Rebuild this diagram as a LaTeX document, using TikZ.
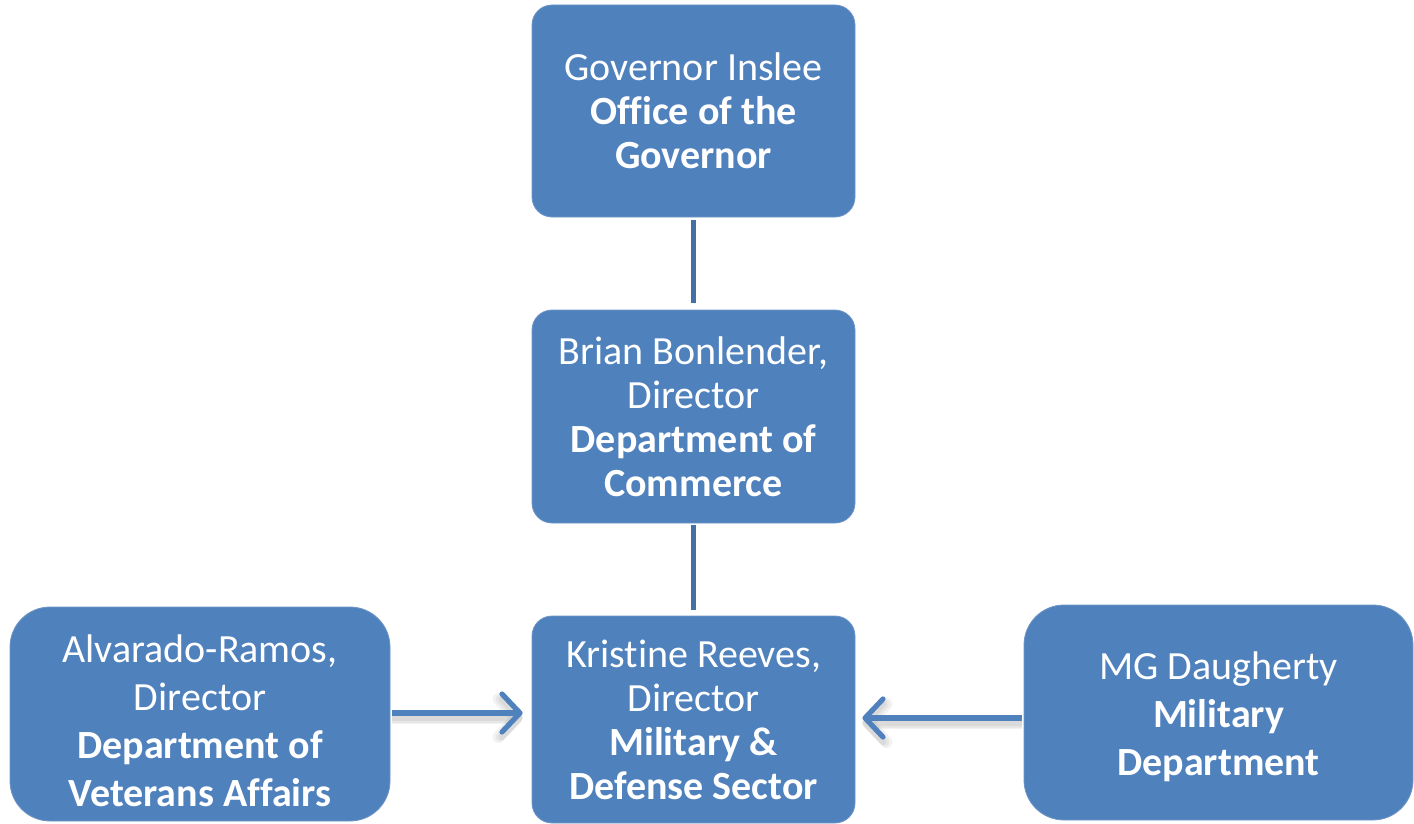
\documentclass[tikz,border=0pt]{standalone}
\usepackage{fontspec}
\setmainfont[Ligatures=NoCommon]{Carlito}
\usetikzlibrary{arrows.meta,calc}
\definecolor{boxblue}{HTML}{4F81BD}
\definecolor{linkblue}{HTML}{4470A8}
\definecolor{edgeblue}{HTML}{6F95C6}
\begin{document}
\begin{tikzpicture}[x=0.5pt,y=-0.5pt,
  box/.style={fill=boxblue, draw=edgeblue, line width=0.4pt, rounded corners=10pt,
    text=white, align=center, inner sep=0pt},
  midbox/.style={box, minimum width=161.5pt, font=\fontsize{20}{22}\selectfont},
  sidebox/.style={box, rounded corners=20pt},
  sidetext/.style={text=white, align=center, inner sep=0pt,
    font=\fontsize{20}{24}\selectfont},
  link/.style={draw=linkblue, line width=2.6pt},
  arr/.style={draw=boxblue, line width=2.6pt,
    -{Straight Barb[length=9pt,width=19pt,line width=2.6pt,round]}},
  arrshadow/.style={draw=black, opacity=0.05, line width=#1,
    -{Straight Barb[length=9pt,width=19pt,line width=#1,round]}}
]
\useasboundingbox (0,0) rectangle (1414,824);

% centre column
\node[midbox, minimum height=106pt] (gov) at (693.5,111)
  {Governor Inslee\\ \textbf{Office of the}\\ \textbf{Governor}};
\node[midbox, minimum height=106.5pt] (com) at (693.5,416.5)
  {Brian Bonlender,\\ Director\\ \textbf{Department of}\\ \textbf{Commerce}};
\node[midbox, minimum height=103.5pt] (mds) at (693.5,719.5)
  {Kristine Reeves,\\ Director\\ \textbf{Military \&}\\ \textbf{Defense Sector}};

% side boxes
\node[sidebox, minimum width=190pt, minimum height=107pt] (va) at (200,714) {};
\node[sidetext] (vatext) at (200,721)
  {Alvarado-Ramos,\\ Director\\ \textbf{Department of}\\ \textbf{Veterans Affairs}};
\node[sidebox, minimum width=194.5pt, minimum height=107.5pt] (mil) at (1218.5,712.5) {};
\node[sidetext] (miltext) at (1218.5,716.5)
  {MG Daugherty\\ \textbf{Military}\\ \textbf{Department}};

% reporting lines
\draw[link, shorten <=1.5pt, shorten >=3.5pt] (gov.south) -- (com.north);
\draw[link, shorten <=1pt, shorten >=3pt] (com.south) -- (mds.north);

% soft shadows under the arrows
\foreach \w in {6pt,4.5pt,3pt} {
  \draw[arrshadow=\w, shorten <=1pt, shorten >=4.5pt]
    ($(va.east)+(0,4)$) -- ($(mds.west)+(0,-1.5)$);
  \draw[arrshadow=\w, shorten <=1pt, shorten >=3.5pt]
    ($(mil.west)+(0,10.5)$) -- ($(mds.east)+(0,3.5)$);
}

% arrows into the sector office
\draw[arr, shorten <=1pt, shorten >=4.5pt] ($(va.east)+(0,-1)$) -- ($(mds.west)+(0,-6.5)$);
\draw[arr, shorten <=1pt, shorten >=3.5pt] ($(mil.west)+(0,5.5)$) -- ($(mds.east)+(0,-1.5)$);
\end{tikzpicture}
\end{document}
